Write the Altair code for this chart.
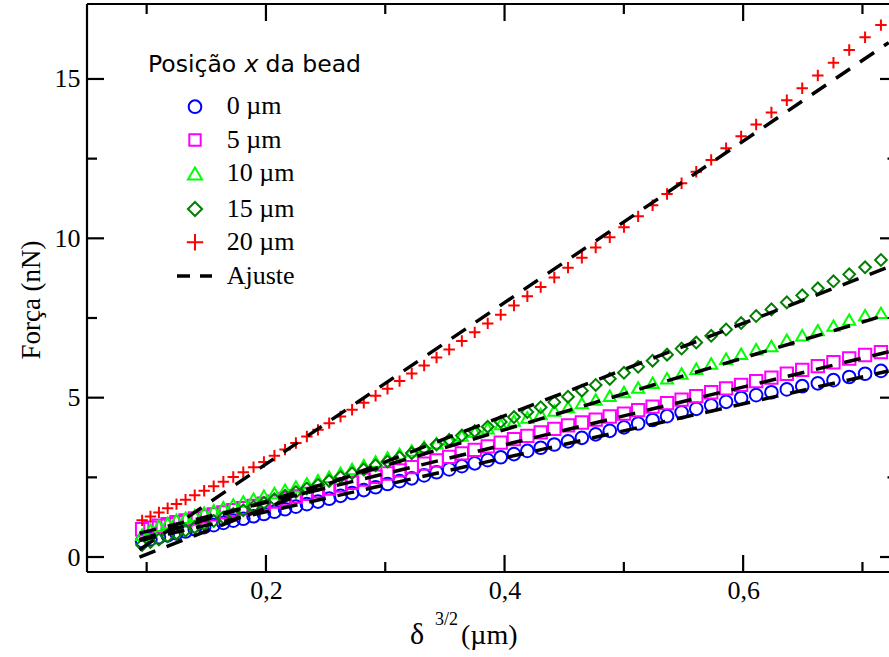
import altair as alt
import pandas as pd

# ---------------- data ----------------
x_vals = [0.0962, 0.1032, 0.1103, 0.1176, 0.1250, 0.1326, 0.1403, 0.1482, 0.1562, 0.1643,
          0.1726, 0.1810, 0.1896, 0.1983, 0.2071, 0.2160, 0.2251, 0.2343, 0.2436, 0.2530,
          0.2625, 0.2722, 0.2820, 0.2919, 0.3019, 0.3120, 0.3222, 0.3326, 0.3430, 0.3536,
          0.3642, 0.3750, 0.3859, 0.3968, 0.4079, 0.4191, 0.4303, 0.4417, 0.4532, 0.4648,
          0.4764, 0.4882, 0.5001, 0.5120, 0.5241, 0.5362, 0.5484, 0.5607, 0.5732, 0.5857,
          0.5983, 0.6109, 0.6237, 0.6366, 0.6495, 0.6626, 0.6757, 0.6889, 0.7022, 0.7155]

y_0um = [0.50, 0.56, 0.62, 0.68, 0.74, 0.80, 0.87, 0.94, 1.00, 1.07,
         1.14, 1.20, 1.28, 1.35, 1.42, 1.50, 1.58, 1.66, 1.74, 1.83,
         1.92, 2.01, 2.10, 2.19, 2.29, 2.38, 2.47, 2.56, 2.66, 2.75,
         2.85, 2.94, 3.04, 3.13, 3.23, 3.33, 3.43, 3.53, 3.63, 3.74,
         3.85, 3.96, 4.07, 4.19, 4.30, 4.42, 4.54, 4.65, 4.76, 4.87,
         4.99, 5.08, 5.17, 5.26, 5.36, 5.45, 5.55, 5.65, 5.75, 5.84]

y_5um = [0.87, 0.92, 0.98, 1.03, 1.09, 1.15, 1.21, 1.27, 1.34, 1.40,
         1.47, 1.53, 1.60, 1.67, 1.74, 1.82, 1.90, 1.98, 2.06, 2.15,
         2.24, 2.33, 2.43, 2.52, 2.62, 2.72, 2.82, 2.93, 3.03, 3.14,
         3.25, 3.36, 3.47, 3.59, 3.70, 3.80, 3.91, 4.02, 4.13, 4.22,
         4.31, 4.41, 4.50, 4.61, 4.72, 4.83, 4.94, 5.05, 5.17, 5.29,
         5.40, 5.52, 5.63, 5.75, 5.87, 5.99, 6.11, 6.23, 6.34, 6.43]

y_10um = [0.70, 0.86, 0.98, 1.07, 1.17, 1.23, 1.31, 1.39, 1.47, 1.56,
          1.65, 1.74, 1.83, 1.92, 2.01, 2.11, 2.21, 2.31, 2.41, 2.52,
          2.64, 2.76, 2.88, 3.00, 3.12, 3.23, 3.34, 3.46, 3.57, 3.69,
          3.81, 3.93, 4.04, 4.17, 4.28, 4.38, 4.49, 4.60, 4.71, 4.83,
          4.94, 5.06, 5.18, 5.32, 5.47, 5.61, 5.76, 5.91, 6.07, 6.22,
          6.38, 6.52, 6.62, 6.82, 6.96, 7.12, 7.26, 7.45, 7.59, 7.66]

y_15um = [0.38, 0.47, 0.55, 0.65, 0.74, 0.83, 0.93, 1.03, 1.13, 1.24,
          1.35, 1.47, 1.58, 1.70, 1.81, 1.92, 2.04, 2.15, 2.27, 2.39,
          2.51, 2.63, 2.75, 2.88, 3.00, 3.13, 3.26, 3.40, 3.53, 3.67,
          3.81, 3.95, 4.09, 4.24, 4.39, 4.55, 4.70, 4.86, 5.03, 5.22,
          5.40, 5.59, 5.78, 5.97, 6.16, 6.35, 6.54, 6.73, 6.94, 7.14,
          7.34, 7.56, 7.77, 7.99, 8.21, 8.43, 8.65, 8.87, 9.09, 9.32]

y_20um = [1.15, 1.27, 1.40, 1.53, 1.66, 1.80, 1.94, 2.08, 2.22, 2.36,
          2.51, 2.66, 2.82, 2.98, 3.18, 3.37, 3.58, 3.78, 3.99, 4.20,
          4.41, 4.62, 4.84, 5.06, 5.28, 5.52, 5.76, 6.01, 6.26, 6.51,
          6.78, 7.05, 7.33, 7.60, 7.89, 8.18, 8.47, 8.77, 9.08, 9.39,
          9.71, 10.03, 10.35, 10.69, 11.04, 11.39, 11.73, 12.09, 12.46, 12.83,
          13.20, 13.57, 13.95, 14.33, 14.71, 15.11, 15.51, 15.91, 16.31, 16.69]

series = ["0 µm", "5 µm", "10 µm", "15 µm", "20 µm"]
series_y = [y_0um, y_5um, y_10um, y_15um, y_20um]

# fitted lines ("Ajuste"): start / end points
fit_x_start = 0.094
fit_x_end = 0.722
fit_y_start = [0.52, 0.75, 0.55, 0.00, 0.23]
fit_y_end = [5.84, 6.44, 7.62, 9.10, 16.14]

x_major = [0.2, 0.4, 0.6]
x_minor = [0.1, 0.3, 0.5, 0.7]
y_major = [0, 5, 10, 15]
y_minor = [2.5, 7.5, 12.5]

# ---------------- styling ----------------
colors = ["#0000ff", "#ff00ff", "#00ff00", "#008000", "#ff0000"]
shapes = ["circle", "square", "triangle-up", "diamond", "M-1,0L1,0M0,-1L0,1"]
sizes = [160, 130, 200, 200, 270]
SW = 2.0

W, H = 802, 568
PX_X = 1193.0   # pixels per x unit
PX_Y = 31.87    # pixels per y unit
x_lo, y_lo = 0.05, -0.47
xscale = alt.Scale(domain=[x_lo, x_lo + W / PX_X], nice=False, zero=False)
yscale = alt.Scale(domain=[y_lo, y_lo + H / PX_Y], nice=False, zero=False)

SERIF = "Liberation Serif"
SANS = "DejaVu Sans"

xaxis = alt.Axis(values=x_major, labelExpr="replace(format(datum.value, '.1f'), '.', ',')",
                 ticks=False, domain=False, grid=False, title=None, labelFont=SERIF,
                 labelFontSize=26, labelColor="black", labelPadding=5)
yaxis = alt.Axis(values=y_major, format="d", ticks=False, domain=False, grid=False,
                 title=None, labelFont=SERIF, labelFontSize=26, labelColor="black",
                 labelPadding=7)


def X(f):
    return alt.X(f, type="quantitative", scale=xscale, axis=xaxis)


def Y(f):
    return alt.Y(f, type="quantitative", scale=yscale, axis=yaxis)


# long table of points
rows = []
for k, (name, ys) in enumerate(zip(series, series_y)):
    for xv, yv in zip(x_vals, ys):
        rows.append({"x": xv, "y": yv, "s": name, "o": k})
pts = pd.DataFrame(rows)

fit_rows = []
for name, y0, y1 in zip(series, fit_y_start, fit_y_end):
    fit_rows.append({"x": fit_x_start, "y": y0, "s": name})
    fit_rows.append({"x": fit_x_end, "y": y1, "s": name})
fits = pd.DataFrame(fit_rows)

color_scale = alt.Scale(domain=series, range=colors)
shape_scale = alt.Scale(domain=series, range=shapes)
size_scale = alt.Scale(domain=series, range=sizes)

points = alt.Chart(pts).mark_point(filled=False, strokeWidth=SW, clip=True, opacity=1).encode(
    x=X("x"), y=Y("y"),
    color=alt.Color("s:N", scale=color_scale, legend=None),
    shape=alt.Shape("s:N", scale=shape_scale, legend=None),
    size=alt.Size("s:N", scale=size_scale, legend=None),
    order=alt.Order("o:Q"),
)

fit_lines = alt.Chart(fits).mark_line(color="black", strokeWidth=3.5, strokeDash=[17, 12],
                                      clip=True, strokeCap="butt").encode(
    x=X("x"), y=Y("y"), detail="s:N")

# ticks (inward) and frame
tick_w = 2.2
ticks = []
ticks.append(alt.Chart(pd.DataFrame({"v": x_major})).mark_rule(color="black", strokeWidth=tick_w).encode(
    x=X("v"), y=alt.value(H), y2=alt.value(H - 17)))
ticks.append(alt.Chart(pd.DataFrame({"v": x_minor})).mark_rule(color="black", strokeWidth=tick_w).encode(
    x=X("v"), y=alt.value(H), y2=alt.value(H - 10)))
ticks.append(alt.Chart(pd.DataFrame({"v": x_major})).mark_rule(color="black", strokeWidth=tick_w).encode(
    x=X("v"), y=alt.value(0), y2=alt.value(17)))
ticks.append(alt.Chart(pd.DataFrame({"v": x_minor})).mark_rule(color="black", strokeWidth=tick_w).encode(
    x=X("v"), y=alt.value(0), y2=alt.value(10)))
ticks.append(alt.Chart(pd.DataFrame({"v": y_major})).mark_rule(color="black", strokeWidth=tick_w).encode(
    y=Y("v"), x=alt.value(0), x2=alt.value(17)))
ticks.append(alt.Chart(pd.DataFrame({"v": y_minor})).mark_rule(color="black", strokeWidth=tick_w).encode(
    y=Y("v"), x=alt.value(0), x2=alt.value(10)))
ticks.append(alt.Chart(pd.DataFrame({"v": y_major})).mark_rule(color="black", strokeWidth=tick_w).encode(
    y=Y("v"), x=alt.value(W - 9), x2=alt.value(W)))
ticks.append(alt.Chart(pd.DataFrame({"v": y_minor})).mark_rule(color="black", strokeWidth=tick_w).encode(
    y=Y("v"), x=alt.value(W - 1.5), x2=alt.value(W)))

one = pd.DataFrame({"a": [0]})
frame = [
    alt.Chart(one).mark_rule(color="black", strokeWidth=2.2).encode(
        x=alt.value(0), y=alt.value(0), y2=alt.value(H)),
    alt.Chart(one).mark_rule(color="black", strokeWidth=2.2).encode(
        x=alt.value(0), x2=alt.value(W), y=alt.value(H)),
    alt.Chart(one).mark_rule(color="black", strokeWidth=2.2).encode(
        x=alt.value(0), x2=alt.value(W), y=alt.value(0)),
]


def txt(text, x, y, size, font=SERIF, style="normal", align="left", baseline="alphabetic", angle=0):
    return alt.Chart(one).mark_text(text=text, font=font, fontSize=size, fontStyle=style,
                                    align=align, baseline=baseline, angle=angle,
                                    color="black").encode(x=alt.value(x), y=alt.value(y))


# axis titles
titles = [
    txt("Força (nN)", -55, 296, 27, align="center", baseline="middle", angle=270),
    txt("δ", 323, 640, 30),
    txt("3/2", 348, 621, 18),
    txt("(µm)", 374, 640, 28),
]

# manual legend
legend = [
    txt("Posição", 61, 68, 23.5, font=SANS),
    txt("x", 157.5, 68, 23.5, font=SANS, style="italic"),
    txt("da bead", 178.5, 68, 23.5, font=SANS),
]
sym_y = [102.7, 136, 169.5, 205, 238.3]
for name, c, sh, sz, yy in zip(series, colors, shapes, sizes, sym_y):
    legend.append(alt.Chart(one).mark_point(shape=sh, color=c, size=sz, filled=False,
                                            strokeWidth=SW, opacity=1).encode(
        x=alt.value(108), y=alt.value(yy)))
    legend.append(txt(name, 139.7, yy + 7.5, 26))
legend.append(alt.Chart(one).mark_rule(color="black", strokeWidth=3.5, strokeDash=[13, 10]).encode(
    x=alt.value(90), x2=alt.value(125), y=alt.value(272)))
legend.append(txt("Ajuste", 139.7, 279.5, 26))

chart = alt.layer(points, fit_lines, *ticks, *frame, *titles, *legend).properties(
    width=W, height=H,
    autosize=alt.AutoSizeParams(type="none"),
    padding={"left": 87, "top": 4, "right": 0, "bottom": 85},
).configure_view(stroke=None).configure(background="white")

chart.save("out.html", embed_options={"renderer": "svg", "actions": False})
